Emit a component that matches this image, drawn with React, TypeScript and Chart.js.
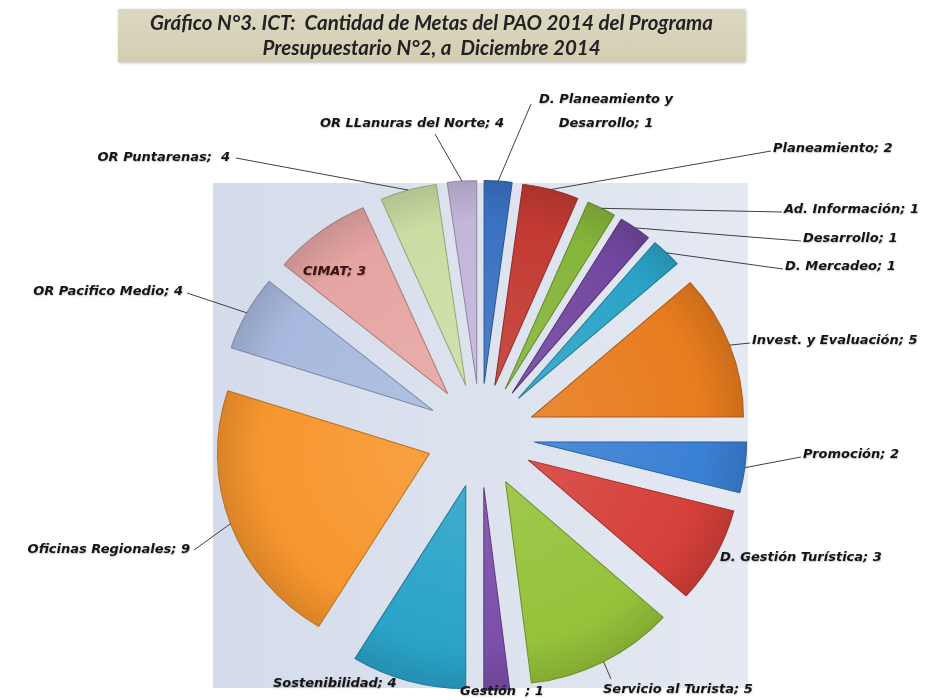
import React, { useEffect, useRef } from 'react';
import { Chart, PieController, ArcElement } from 'chart.js';

Chart.register(PieController, ArcElement);

// ---------- data ----------
const titleLines = [
  'Gráfico N°3. ICT:  Cantidad de Metas del PAO 2014 del Programa',
  'Presupuestario N°2, a  Diciembre 2014',
];

const categories = [
  'D. Planeamiento y Desarrollo',
  'Planeamiento',
  'Ad. Información',
  'Desarrollo',
  'D. Mercadeo',
  'Invest. y Evaluación',
  'Promoción',
  'D. Gestión Turística',
  'Servicio al Turista',
  'Gestión',
  'Sostenibilidad',
  'Oficinas Regionales',
  'OR Pacifico Medio',
  'CIMAT',
  'OR Puntarenas',
  'OR LLanuras del Norte',
];

// values printed in the data labels
const metas = [1, 2, 1, 1, 1, 5, 2, 3, 5, 1, 4, 9, 4, 3, 4, 4];

// slice sizes as drawn in the picture (estimated angular share, degrees)
const sliceShares = [7.6, 15.4, 8, 9, 8.5, 41.5, 14.5, 27.5, 41, 7, 31.5, 76.5, 21.5, 27, 15.5, 8];

const labelSeparators = ['; ', '; ', '; ', '; ', '; ', '; ', '; ', '; ', '; ', '  ; ', '; ', '; ', '; ', '; ', ';  ', '; '];

// ---------- styles ----------
const sliceColors = [
  '#3A72C2', '#C23A33', '#86B53A', '#7347A0', '#2BA3C7', '#E87C1F',
  '#3A80D4', '#D6403A', '#95C23A', '#7B4EA8', '#2AA3C9', '#F7962E',
  '#A7B9DE', '#E5A5A2', '#CBDDA3', '#C2B6D9',
];

const SX = 1.045; // horizontal stretch of the pie
const RADIUS = 203;
const EXPLODE = 52;

type LabelPos = { x: number; y: number; align: CanvasTextAlign; split?: number; line?: [number, number] };
const labelLayout: LabelPos[] = [
  { x: 606, y: 100, align: 'center', split: 17, line: [531, 104] },
  { x: 773, y: 149, align: 'left', line: [771, 151] },
  { x: 784, y: 210, align: 'left', line: [782, 212] },
  { x: 803, y: 239, align: 'left', line: [801, 241] },
  { x: 785, y: 267, align: 'left', line: [783, 269] },
  { x: 752, y: 341, align: 'left', line: [750, 343] },
  { x: 803, y: 455, align: 'left', line: [801, 457] },
  { x: 720, y: 558, align: 'left' },
  { x: 603, y: 690, align: 'left', line: [611, 679] },
  { x: 460, y: 692, align: 'left' },
  { x: 273, y: 684, align: 'left' },
  { x: 190, y: 550, align: 'right', line: [194, 550] },
  { x: 183, y: 292, align: 'right', line: [187, 293] },
  { x: 303, y: 272, align: 'left' },
  { x: 230, y: 158, align: 'right', line: [236, 158] },
  { x: 412, y: 124, align: 'center', line: [435, 134] },
];

function shade(hex: string, amt: number): string {
  const n = parseInt(hex.slice(1), 16);
  let r = (n >> 16) & 255, g = (n >> 8) & 255, b = n & 255;
  const f = (c: number) => Math.round(amt >= 0 ? c + (255 - c) * amt : c * (1 + amt));
  r = f(r); g = f(g); b = f(b);
  return `rgb(${r},${g},${b})`;
}

const bgPlugin = {
  id: 'plotBg',
  beforeDraw(chart: any) {
    const { ctx, chartArea: a } = chart;
    const g = ctx.createLinearGradient(a.left, 0, a.right, 0);
    g.addColorStop(0, '#D4DBEA');
    g.addColorStop(0.6, '#DEE4EF');
    g.addColorStop(1, '#E4E9F2');
    ctx.save();
    ctx.fillStyle = g;
    ctx.fillRect(a.left, a.top, a.right - a.left, a.bottom - a.top);
    ctx.restore();
  },
};

const explodePlugin = {
  id: 'explode',
  afterDatasetUpdate(chart: any, args: any) {
    const a = chart.chartArea;
    const cx = (a.left + a.right) / 2;
    const cy = (a.top + a.bottom) / 2;
    args.meta.data.forEach((el: any) => {
      const mid = (el.startAngle + el.endAngle) / 2;
      el.x = cx + Math.cos(mid) * EXPLODE;
      el.y = cy + Math.sin(mid) * EXPLODE;
    });
  },
  beforeDatasetsDraw(chart: any) {
    const a = chart.chartArea;
    const cx = (a.left + a.right) / 2;
    const ctx = chart.ctx;
    ctx.save();
    ctx.translate(cx, 0);
    ctx.scale(SX, 1);
    ctx.translate(-cx, 0);
  },
  afterDatasetsDraw(chart: any) {
    chart.ctx.restore();
  },
};

const labelPlugin = {
  id: 'sliceLabels',
  afterDraw(chart: any) {
    const { ctx, chartArea: a } = chart;
    const cx = (a.left + a.right) / 2;
    const meta = chart.getDatasetMeta(0);
    ctx.save();
    ctx.font = 'italic bold 13px "DejaVu Sans"';
    ctx.textBaseline = 'middle';
    meta.data.forEach((el: any, i: number) => {
      const L = labelLayout[i];
      const mid = (el.startAngle + el.endAngle) / 2;
      const ax = cx + (el.x + Math.cos(mid) * el.outerRadius - cx) * SX;
      const ay = el.y + Math.sin(mid) * el.outerRadius;
      if (L.line) {
        ctx.strokeStyle = '#404040';
        ctx.lineWidth = 1;
        ctx.beginPath();
        ctx.moveTo(L.line[0], L.line[1]);
        ctx.lineTo(ax, ay);
        ctx.stroke();
      }
      const text = categories[i] + labelSeparators[i] + metas[i];
      const lines = L.split ? [text.slice(0, L.split), text.slice(L.split).trim()] : [text];
      ctx.textAlign = L.align;
      ctx.fillStyle = i === 13 ? '#3a1010' : '#141414';
      ctx.shadowColor = 'rgba(0,0,0,0.25)';
      ctx.shadowBlur = 1.5;
      ctx.shadowOffsetX = 0.5;
      ctx.shadowOffsetY = 0.5;
      lines.forEach((ln, k) => ctx.fillText(ln, L.x, L.y + k * 24));
      ctx.shadowColor = 'transparent';
    });
    ctx.restore();
  },
};

export default function App() {
  const ref = useRef<HTMLCanvasElement>(null);
  useEffect(() => {
    const canvas = ref.current!;
    const chart = new Chart(canvas, {
      type: 'pie',
      data: {
        labels: categories,
        datasets: [
          {
            data: sliceShares,
            radius: RADIUS,
            clip: false,
            borderWidth: 1,
            borderColor: sliceColors.map((c) => shade(c, -0.25)),
            backgroundColor: (c: any) => {
              const base = sliceColors[c.dataIndex];
              const chartArea = c.chart.chartArea;
              if (!chartArea || c.type !== 'data') return base;
              const data = c.dataset.data as number[];
              const total = data.reduce((s, v) => s + v, 0);
              let cum = 0;
              for (let k = 0; k < c.dataIndex; k++) cum += data[k];
              const mid = -Math.PI / 2 + ((cum + data[c.dataIndex] / 2) / total) * Math.PI * 2;
              const cx = (chartArea.left + chartArea.right) / 2 + Math.cos(mid) * EXPLODE;
              const cy = (chartArea.top + chartArea.bottom) / 2 + Math.sin(mid) * EXPLODE;
              const g = c.chart.ctx.createRadialGradient(cx, cy, 0, cx, cy, RADIUS);
              g.addColorStop(0, shade(base, 0.1));
              g.addColorStop(0.8, base);
              g.addColorStop(1, shade(base, -0.12));
              return g;
            },
          } as any,
        ],
      },
      options: {
        responsive: false,
        animation: false,
        devicePixelRatio: 1,
        layout: { padding: { left: 213, top: 183, right: 195, bottom: 12 } },
        events: [],
      },
      plugins: [bgPlugin, explodePlugin, labelPlugin],
    });
    return () => chart.destroy();
  }, []);

  return (
    <div style={{ position: 'absolute', left: 0, top: 0, width: 943, height: 700, background: '#ffffff' }}>
      <canvas ref={ref} width={943} height={700} style={{ position: 'absolute', left: 0, top: 0 }} />
      <div
        style={{
          position: 'absolute',
          left: 118,
          top: 9,
          width: 627,
          height: 53,
          background: 'linear-gradient(#DDD8C2, #D3CDB1)',
          boxShadow: '1px 1px 3px rgba(0,0,0,0.25)',
          fontFamily: 'Lato, "Open Sans", sans-serif',
          fontStyle: 'italic',
          fontWeight: 'bold',
          fontSize: 20.5,
          lineHeight: '25px',
          paddingTop: 1,
          boxSizing: 'border-box',
          textAlign: 'center',
          color: '#222222',
          whiteSpace: 'pre',
        }}
      >
        {titleLines[0]}
        <br />
        {titleLines[1]}
      </div>
    </div>
  );
}
